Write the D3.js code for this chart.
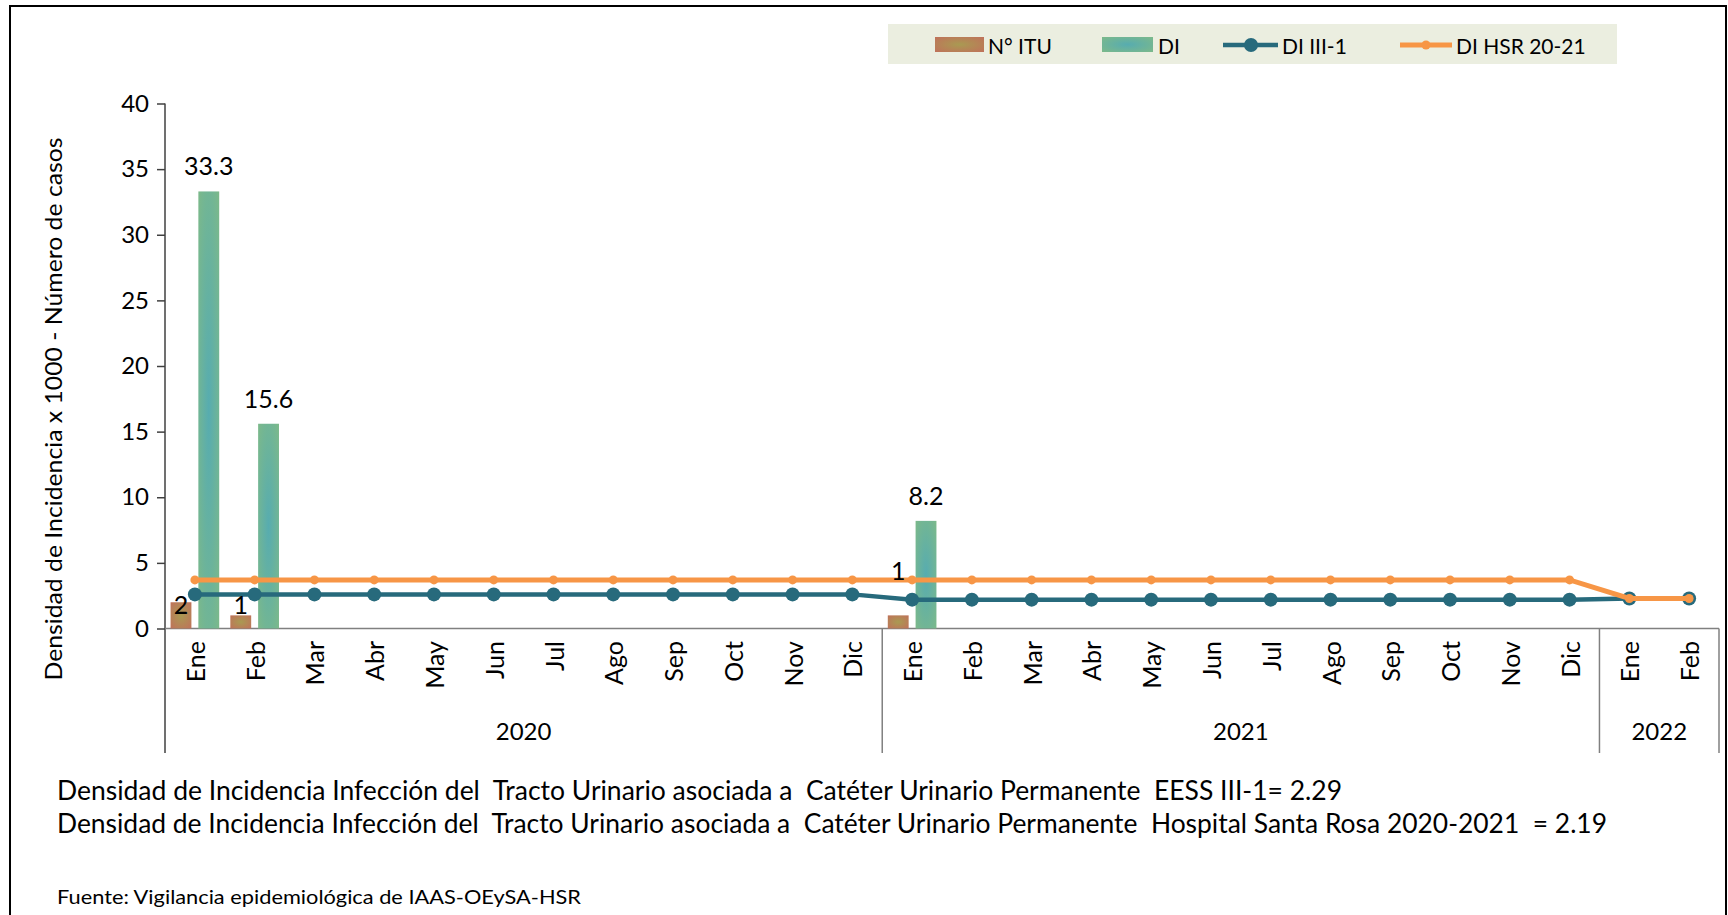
<!DOCTYPE html>
<html>
<head>
<meta charset="utf-8">
<script src="https://cdn.jsdelivr.net/npm/d3@7"></script>
<style>
  body { margin: 0; background: #fff; }
  svg text { font-family: Lato, "Open Sans", sans-serif; fill: #000; }
</style>
</head>
<body>
<div id="chart"></div>
<script>
// months per year and the three series
const years = ["2020", "2021", "2022"];
const monthsByYear = [
  ["Ene", "Feb", "Mar", "Abr", "May", "Jun", "Jul", "Ago", "Sep", "Oct", "Nov", "Dic"],
  ["Ene", "Feb", "Mar", "Abr", "May", "Jun", "Jul", "Ago", "Sep", "Oct", "Nov", "Dic"],
  ["Ene", "Feb"]
];
const nITU = [2, 1, 0, 0, 0, 0, 0, 0, 0, 0, 0, 0, 1, 0, 0, 0, 0, 0, 0, 0, 0, 0, 0, 0, 0, 0];
const di = [33.3, 15.6, 0, 0, 0, 0, 0, 0, 0, 0, 0, 0, 8.2, 0, 0, 0, 0, 0, 0, 0, 0, 0, 0, 0, 0, 0];
const diIII1 = [2.6, 2.6, 2.6, 2.6, 2.6, 2.6, 2.6, 2.6, 2.6, 2.6, 2.6, 2.6,
                2.2, 2.2, 2.2, 2.2, 2.2, 2.2, 2.2, 2.2, 2.2, 2.2, 2.2, 2.2, 2.29, 2.29];
const diHSR = [3.7, 3.7, 3.7, 3.7, 3.7, 3.7, 3.7, 3.7, 3.7, 3.7, 3.7, 3.7,
               3.7, 3.7, 3.7, 3.7, 3.7, 3.7, 3.7, 3.7, 3.7, 3.7, 3.7, 3.7, 2.29, 2.29];
const yTicks = [0, 5, 10, 15, 20, 25, 30, 35, 40];
const legendLabels = ["N° ITU", "DI", "DI III-1", "DI HSR 20-21"];
const yTitle = "Densidad de Incidencia x 1000 - Número de casos";
const notes = [
  "Densidad de Incidencia Infección del  Tracto Urinario asociada a  Catéter Urinario Permanente  EESS III-1= 2.29",
  "Densidad de Incidencia Infección del  Tracto Urinario asociada a  Catéter Urinario Permanente  Hospital Santa Rosa 2020-2021  = 2.19"
];
const source = "Fuente: Vigilancia epidemiológica de IAAS-OEySA-HSR";

const width = 1728;
const height = 915;
const plotLeft = 165;
const plotRight = 1719;
const plotTop = 103.5;
const plotBottom = 628.5;
const catBottom = 753;

const teal = "#276a7c";
const orange = "#f79646";

// flat list of categories
const cats = [];
monthsByYear.forEach((ms, yi) => ms.forEach(m => cats.push({ year: years[yi], month: m })));
const keys = cats.map((c, i) => i);

const x = d3.scaleBand()
  .domain(keys)
  .range([plotLeft, plotRight])
  .paddingInner(0)
  .paddingOuter(0);

const xSub = d3.scaleBand()
  .domain(["itu", "di"])
  .range([0, x.bandwidth()])
  .paddingInner(0.25)
  .paddingOuter(0.2);

const y = d3.scaleLinear()
  .domain([0, 40])
  .range([plotBottom, plotTop]);

const svg = d3.select("#chart").append("svg")
  .attr("width", width)
  .attr("height", height);

// gradients for bar fills
const defs = svg.append("defs");
function radial(id, inner, outer) {
  const g = defs.append("radialGradient").attr("id", id)
    .attr("cx", "50%").attr("cy", "50%").attr("r", "70%");
  g.append("stop").attr("offset", "0%").attr("stop-color", inner);
  g.append("stop").attr("offset", "100%").attr("stop-color", outer);
}
radial("gItu", "#a99a52", "#c0715a");
radial("gDi", "#57acb0", "#7cb98a");

// outer frame
svg.append("rect")
  .attr("x", 10).attr("y", 6)
  .attr("width", 1716).attr("height", 930)
  .attr("fill", "none")
  .attr("stroke", "#000")
  .attr("stroke-width", 2);

// y axis
const yAxis = svg.append("g")
  .attr("transform", `translate(${plotLeft},0)`)
  .call(d3.axisLeft(y).tickValues(yTicks).tickSize(8).tickSizeOuter(0).tickPadding(8));
yAxis.select(".domain").remove();
yAxis.selectAll(".tick line").attr("stroke", "#404040").attr("stroke-width", 1.5);
yAxis.selectAll(".tick text").style("font-size", "24px").attr("fill", "#000");
svg.append("line")
  .attr("x1", plotLeft).attr("x2", plotLeft)
  .attr("y1", plotTop).attr("y2", catBottom)
  .attr("stroke", "#404040").attr("stroke-width", 1.5);

// category axis line
svg.append("line")
  .attr("x1", plotLeft).attr("x2", plotRight)
  .attr("y1", y(0)).attr("y2", y(0))
  .attr("stroke", "#808080").attr("stroke-width", 1.5);

// year separators
let start = 0;
monthsByYear.forEach((ms, yi) => {
  const end = start + ms.length;
  const xEnd = end < cats.length ? x(end) : plotRight;
  svg.append("line")
    .attr("x1", xEnd).attr("x2", xEnd)
    .attr("y1", y(0)).attr("y2", catBottom)
    .attr("stroke", "#808080").attr("stroke-width", 1.5);
  const xStart = x(start);
  svg.append("text")
    .attr("x", (xStart + xEnd) / 2)
    .attr("y", 730)
    .attr("text-anchor", "middle")
    .attr("dominant-baseline", "central")
    .style("font-size", "24px")
    .text(years[yi]);
  start = end;
});

// month labels
svg.append("g").selectAll("text")
  .data(cats)
  .join("text")
  .attr("transform", (d, i) => `translate(${x(i) + x.bandwidth() / 2},641) rotate(-90)`)
  .attr("text-anchor", "end")
  .attr("dominant-baseline", "central")
  .style("font-size", "25px")
  .text(d => d.month);

// bars
svg.append("g").selectAll("rect")
  .data(nITU)
  .join("rect")
  .attr("x", (d, i) => x(i) + xSub("itu"))
  .attr("y", d => y(d))
  .attr("width", xSub.bandwidth())
  .attr("height", d => y(0) - y(d))
  .attr("fill", "url(#gItu)");

svg.append("g").selectAll("rect")
  .data(di)
  .join("rect")
  .attr("x", (d, i) => x(i) + xSub("di"))
  .attr("y", d => y(d))
  .attr("width", xSub.bandwidth())
  .attr("height", d => y(0) - y(d))
  .attr("fill", "url(#gDi)");

// lines
const line = d3.line()
  .x((d, i) => x(i) + x.bandwidth() / 2)
  .y(d => y(d));

svg.append("path")
  .datum(diIII1)
  .attr("fill", "none")
  .attr("stroke", teal)
  .attr("stroke-width", 4.5)
  .attr("d", line);
svg.append("g").selectAll("circle")
  .data(diIII1)
  .join("circle")
  .attr("cx", (d, i) => x(i) + x.bandwidth() / 2)
  .attr("cy", d => y(d))
  .attr("r", 7)
  .attr("fill", teal);

svg.append("path")
  .datum(diHSR)
  .attr("fill", "none")
  .attr("stroke", orange)
  .attr("stroke-width", 5)
  .attr("d", line);
svg.append("g").selectAll("circle")
  .data(diHSR)
  .join("circle")
  .attr("cx", (d, i) => x(i) + x.bandwidth() / 2)
  .attr("cy", d => y(d))
  .attr("r", 4.5)
  .attr("fill", orange);

// data labels
svg.append("g").selectAll("text")
  .data(di.map((v, i) => ({ v, i })).filter(d => d.v > 0))
  .join("text")
  .attr("x", d => x(d.i) + xSub("di") + xSub.bandwidth() / 2)
  .attr("y", d => y(d.v) - 16)
  .attr("text-anchor", "middle")
  .style("font-size", "25px")
  .text(d => d.v.toFixed(1));

// N° ITU labels were moved by hand in the original
const ituLabelShift = [12, -1, -35];
svg.append("g").selectAll("text")
  .data(nITU.map((v, i) => ({ v, i })).filter(d => d.v > 0))
  .join("text")
  .attr("x", d => x(d.i) + xSub("itu") + xSub.bandwidth() / 2)
  .attr("y", (d, k) => y(d.v) + ituLabelShift[k])
  .attr("text-anchor", "middle")
  .style("font-size", "25px")
  .text(d => d.v);

// y title
svg.append("text")
  .attr("transform", "translate(52,409) rotate(-90)")
  .attr("text-anchor", "middle")
  .attr("dominant-baseline", "central")
  .attr("textLength", 543)
  .attr("lengthAdjust", "spacingAndGlyphs")
  .style("font-size", "24px")
  .text(yTitle);

// legend
const lg = svg.append("g");
lg.append("rect")
  .attr("x", 888).attr("y", 24)
  .attr("width", 729).attr("height", 40)
  .attr("fill", "#ebeee0");
const legendY = 45;
lg.append("rect").attr("x", 935).attr("y", 37).attr("width", 49).attr("height", 15).attr("fill", "url(#gItu)");
lg.append("rect").attr("x", 1102).attr("y", 37).attr("width", 51).attr("height", 15).attr("fill", "url(#gDi)");
lg.append("line").attr("x1", 1223).attr("x2", 1278).attr("y1", legendY).attr("y2", legendY)
  .attr("stroke", teal).attr("stroke-width", 4.5);
lg.append("circle").attr("cx", 1251).attr("cy", legendY).attr("r", 7).attr("fill", teal);
lg.append("line").attr("x1", 1400).attr("x2", 1452).attr("y1", legendY).attr("y2", legendY)
  .attr("stroke", orange).attr("stroke-width", 5);
lg.append("circle").attr("cx", 1426).attr("cy", legendY).attr("r", 4.5).attr("fill", orange);
const legendTextX = [988, 1158, 1282, 1456];
lg.selectAll("text.lt")
  .data(legendLabels)
  .join("text")
  .attr("class", "lt")
  .attr("x", (d, i) => legendTextX[i])
  .attr("y", legendY)
  .attr("dominant-baseline", "central")
  .style("font-size", "21px")
  .text(d => d);

// footnotes
const noteLengths = [1285, 1550];
svg.append("g").selectAll("text")
  .data(notes)
  .join("text")
  .attr("x", 57)
  .attr("y", (d, i) => 790 + i * 33)
  .attr("dominant-baseline", "central")
  .attr("textLength", (d, i) => noteLengths[i])
  .attr("lengthAdjust", "spacingAndGlyphs")
  .style("white-space", "pre")
  .style("font-size", "26px")
  .text(d => d);

svg.append("text")
  .attr("x", 57)
  .attr("y", 896)
  .attr("dominant-baseline", "central")
  .attr("textLength", 524)
  .attr("lengthAdjust", "spacingAndGlyphs")
  .style("font-size", "19px")
  .text(source);
</script>
</body>
</html>
